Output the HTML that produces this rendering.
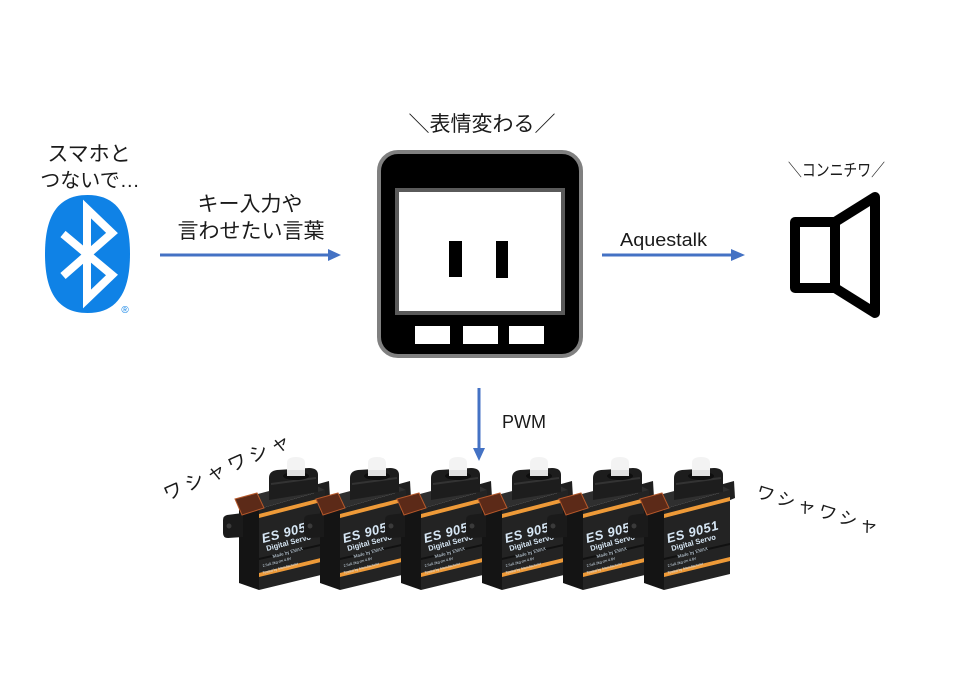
<!DOCTYPE html>
<html>
<head>
<meta charset="utf-8">
<style>
  html,body{margin:0;padding:0;background:#fff;}
  body{width:958px;height:678px;overflow:hidden;}
  svg{display:block;}
  .jp{font-family:"Liberation Sans","Noto Sans CJK JP",sans-serif;fill:#1a1a1a;}
  .lat{font-family:"Liberation Sans",sans-serif;fill:#1a1a1a;}
  .sv{font-family:"Liberation Sans",sans-serif;fill:#d6e6f4;}
</style>
</head>
<body>
<svg width="958" height="678" viewBox="0 0 958 678" xmlns="http://www.w3.org/2000/svg">
  <defs>
    <g id="servo">
      <!-- rear right bracket -->
      <polygon points="716,486 734,481 735,498 723,503" fill="#1f1f1f"/>
      <!-- top face -->
      <polygon points="644,499 712,481 730,490 664,509" fill="#2f2f2f"/>
      <!-- side face -->
      <polygon points="644,499 664,509 664,590 644,583" fill="#141414"/>
      <!-- front face -->
      <polygon points="664,509 730,490 730,574 664,590" fill="#232323"/>
      <polygon points="664,558 730,543 730,545 664,560" fill="#111"/>
      <!-- orange stripes -->
      <polygon points="664,514 730,497 730,501 664,518" fill="#ee9a38"/>
      <polygon points="664,573 730,557 730,561 664,577" fill="#ee9a38"/>
      <!-- mounting tab -->
      <path d="M648,513 L632,515 Q628,516 628,520 L628,533 Q628,538 633,538 L648,537 Z" fill="#1a1a1a"/>
      <circle cx="634" cy="526" r="2.5" fill="#3a3a3a"/>
      <!-- label on top -->
      <polygon points="640,499 662,493 669,508 647,515" fill="#5c2a18" stroke="#b5582a" stroke-width="1"/>
      <!-- top housing -->
      <path d="M674,500 L674,478 Q674,471 682,470 L714,468 Q723,468 723,475 L723,492 Z" fill="#1d1d1d"/>
      <path d="M676,484 L721,478" stroke="#333" stroke-width="2"/>
      <!-- cap -->
      <ellipse cx="701" cy="476" rx="13" ry="4" fill="#0e0e0e"/>
      <path d="M692,476 L692,463 Q692,457 701,457 Q710,457 710,463 L710,476 Z" fill="#f3f3f3"/>
      <rect x="692" y="470" width="18" height="6" fill="#e0e0e0"/>
    </g>
  </defs>

  <rect width="958" height="678" fill="#fff"/>

  <!-- Left text -->
  <text class="jp" x="89" y="161" font-size="21" text-anchor="middle">スマホと</text>
  <text class="jp" x="90" y="187" font-size="20" text-anchor="middle">つないで…</text>

  <!-- Bluetooth logo -->
  <path d="M87.5,195 C120,195 130,220 130,254 C130,288 120,313 87.5,313 C55,313 45,288 45,254 C45,220 55,195 87.5,195 Z" fill="#0f82e6"/>
  <path d="M63,234 L112,275 L87,299 L87,209 L112,233 L63,276" fill="none" stroke="#fff" stroke-width="8" stroke-linejoin="miter"/>
  <text x="125" y="313" font-size="10" text-anchor="middle" fill="#0f82e6" font-family="Liberation Sans, sans-serif">®</text>

  <!-- Arrow 1 -->
  <text class="jp" x="250" y="211" font-size="21" text-anchor="middle">キー入力や</text>
  <text class="jp" x="251" y="238" font-size="21" text-anchor="middle">言わせたい言葉</text>
  <line x1="160" y1="255" x2="330" y2="255" stroke="#4472c4" stroke-width="3"/>
  <polygon points="328,249 341,255 328,261" fill="#4472c4"/>

  <!-- Device -->
  <text class="jp" x="482" y="131" font-size="21" text-anchor="middle">＼表情変わる／</text>
  <rect x="379" y="152" width="202" height="204" rx="19" fill="#000" stroke="#808080" stroke-width="4"/>
  <rect x="397" y="190" width="166" height="123" fill="#fff" stroke="#5a5a5a" stroke-width="4"/>
  <rect x="449" y="241" width="13" height="36" fill="#000"/>
  <rect x="496" y="241" width="12" height="37" fill="#000"/>
  <rect x="415" y="326" width="35" height="18" fill="#fff"/>
  <rect x="463" y="326" width="35" height="18" fill="#fff"/>
  <rect x="509" y="326" width="35" height="18" fill="#fff"/>

  <!-- Arrow 2 -->
  <text class="lat" x="620" y="246" font-size="18" textLength="87" lengthAdjust="spacingAndGlyphs">Aquestalk</text>
  <line x1="602" y1="255" x2="733" y2="255" stroke="#4472c4" stroke-width="3"/>
  <polygon points="731,249 745,255 731,261" fill="#4472c4"/>

  <!-- Speaker -->
  <text class="jp" x="788" y="176" font-size="17" textLength="97" lengthAdjust="spacingAndGlyphs">＼コンニチワ／</text>
  <path d="M795,222 L835,222 L835,288 L795,288 Z" fill="none" stroke="#000" stroke-width="10" stroke-linejoin="round"/>
  <path d="M835,222 L875,197 L875,313 L835,288" fill="none" stroke="#000" stroke-width="10" stroke-linejoin="round" stroke-linecap="round"/>

  <!-- PWM arrow -->
  <line x1="479" y1="388" x2="479" y2="450" stroke="#4472c4" stroke-width="3"/>
  <polygon points="473,448 479,461 485,448" fill="#4472c4"/>
  <text class="lat" x="502" y="428" font-size="18">PWM</text>

  <!-- Waving texts -->
  <text class="jp" transform="translate(167,501) rotate(-24)" font-size="19" textLength="136" lengthAdjust="spacing">ワシャワシャ</text>
  <text class="jp" transform="translate(755,497) rotate(17)" font-size="18" textLength="126" lengthAdjust="spacing">ワシャワシャ</text>

  <!-- Servos (left to right, later ones on top) -->
  <g transform="translate(-405,0)">
    <use href="#servo"/>
    <g class="sv">
      <text transform="translate(668,543) rotate(-15)" font-size="13" font-weight="bold" font-style="italic" letter-spacing="0.5">ES 9051</text>
      <text transform="translate(672,551) rotate(-15)" font-size="7.5" font-weight="bold">Digital Servo</text>
      <text transform="translate(678,558) rotate(-15)" font-size="4.5">Made by EMAX</text>
      <text transform="translate(668,567) rotate(-15)" font-size="3.5">2.5±0.2kg·cm  4.8V</text>
      <text transform="translate(668,574) rotate(-15)" font-size="3.5">Tested by Manufacturer</text>
    </g>
  </g>
  <g transform="translate(-324,0)">
    <use href="#servo"/>
    <g class="sv">
      <text transform="translate(668,543) rotate(-15)" font-size="13" font-weight="bold" font-style="italic" letter-spacing="0.5">ES 9051</text>
      <text transform="translate(672,551) rotate(-15)" font-size="7.5" font-weight="bold">Digital Servo</text>
      <text transform="translate(678,558) rotate(-15)" font-size="4.5">Made by EMAX</text>
      <text transform="translate(668,567) rotate(-15)" font-size="3.5">2.5±0.2kg·cm  4.8V</text>
      <text transform="translate(668,574) rotate(-15)" font-size="3.5">Tested by Manufacturer</text>
    </g>
  </g>
  <g transform="translate(-243,0)">
    <use href="#servo"/>
    <g class="sv">
      <text transform="translate(668,543) rotate(-15)" font-size="13" font-weight="bold" font-style="italic" letter-spacing="0.5">ES 9051</text>
      <text transform="translate(672,551) rotate(-15)" font-size="7.5" font-weight="bold">Digital Servo</text>
      <text transform="translate(678,558) rotate(-15)" font-size="4.5">Made by EMAX</text>
      <text transform="translate(668,567) rotate(-15)" font-size="3.5">2.5±0.2kg·cm  4.8V</text>
      <text transform="translate(668,574) rotate(-15)" font-size="3.5">Tested by Manufacturer</text>
    </g>
  </g>
  <g transform="translate(-162,0)">
    <use href="#servo"/>
    <g class="sv">
      <text transform="translate(668,543) rotate(-15)" font-size="13" font-weight="bold" font-style="italic" letter-spacing="0.5">ES 9051</text>
      <text transform="translate(672,551) rotate(-15)" font-size="7.5" font-weight="bold">Digital Servo</text>
      <text transform="translate(678,558) rotate(-15)" font-size="4.5">Made by EMAX</text>
      <text transform="translate(668,567) rotate(-15)" font-size="3.5">2.5±0.2kg·cm  4.8V</text>
      <text transform="translate(668,574) rotate(-15)" font-size="3.5">Tested by Manufacturer</text>
    </g>
  </g>
  <g transform="translate(-81,0)">
    <use href="#servo"/>
    <g class="sv">
      <text transform="translate(668,543) rotate(-15)" font-size="13" font-weight="bold" font-style="italic" letter-spacing="0.5">ES 9051</text>
      <text transform="translate(672,551) rotate(-15)" font-size="7.5" font-weight="bold">Digital Servo</text>
      <text transform="translate(678,558) rotate(-15)" font-size="4.5">Made by EMAX</text>
      <text transform="translate(668,567) rotate(-15)" font-size="3.5">2.5±0.2kg·cm  4.8V</text>
      <text transform="translate(668,574) rotate(-15)" font-size="3.5">Tested by Manufacturer</text>
    </g>
  </g>
  <g>
    <use href="#servo"/>
    <g class="sv">
      <text transform="translate(668,543) rotate(-15)" font-size="13" font-weight="bold" font-style="italic" letter-spacing="0.5">ES 9051</text>
      <text transform="translate(672,551) rotate(-15)" font-size="7.5" font-weight="bold">Digital Servo</text>
      <text transform="translate(678,558) rotate(-15)" font-size="4.5">Made by EMAX</text>
      <text transform="translate(668,567) rotate(-15)" font-size="3.5">2.5±0.2kg·cm  4.8V</text>
      <text transform="translate(668,574) rotate(-15)" font-size="3.5">Tested by Manufacturer</text>
    </g>
  </g>
</svg>
</body>
</html>
